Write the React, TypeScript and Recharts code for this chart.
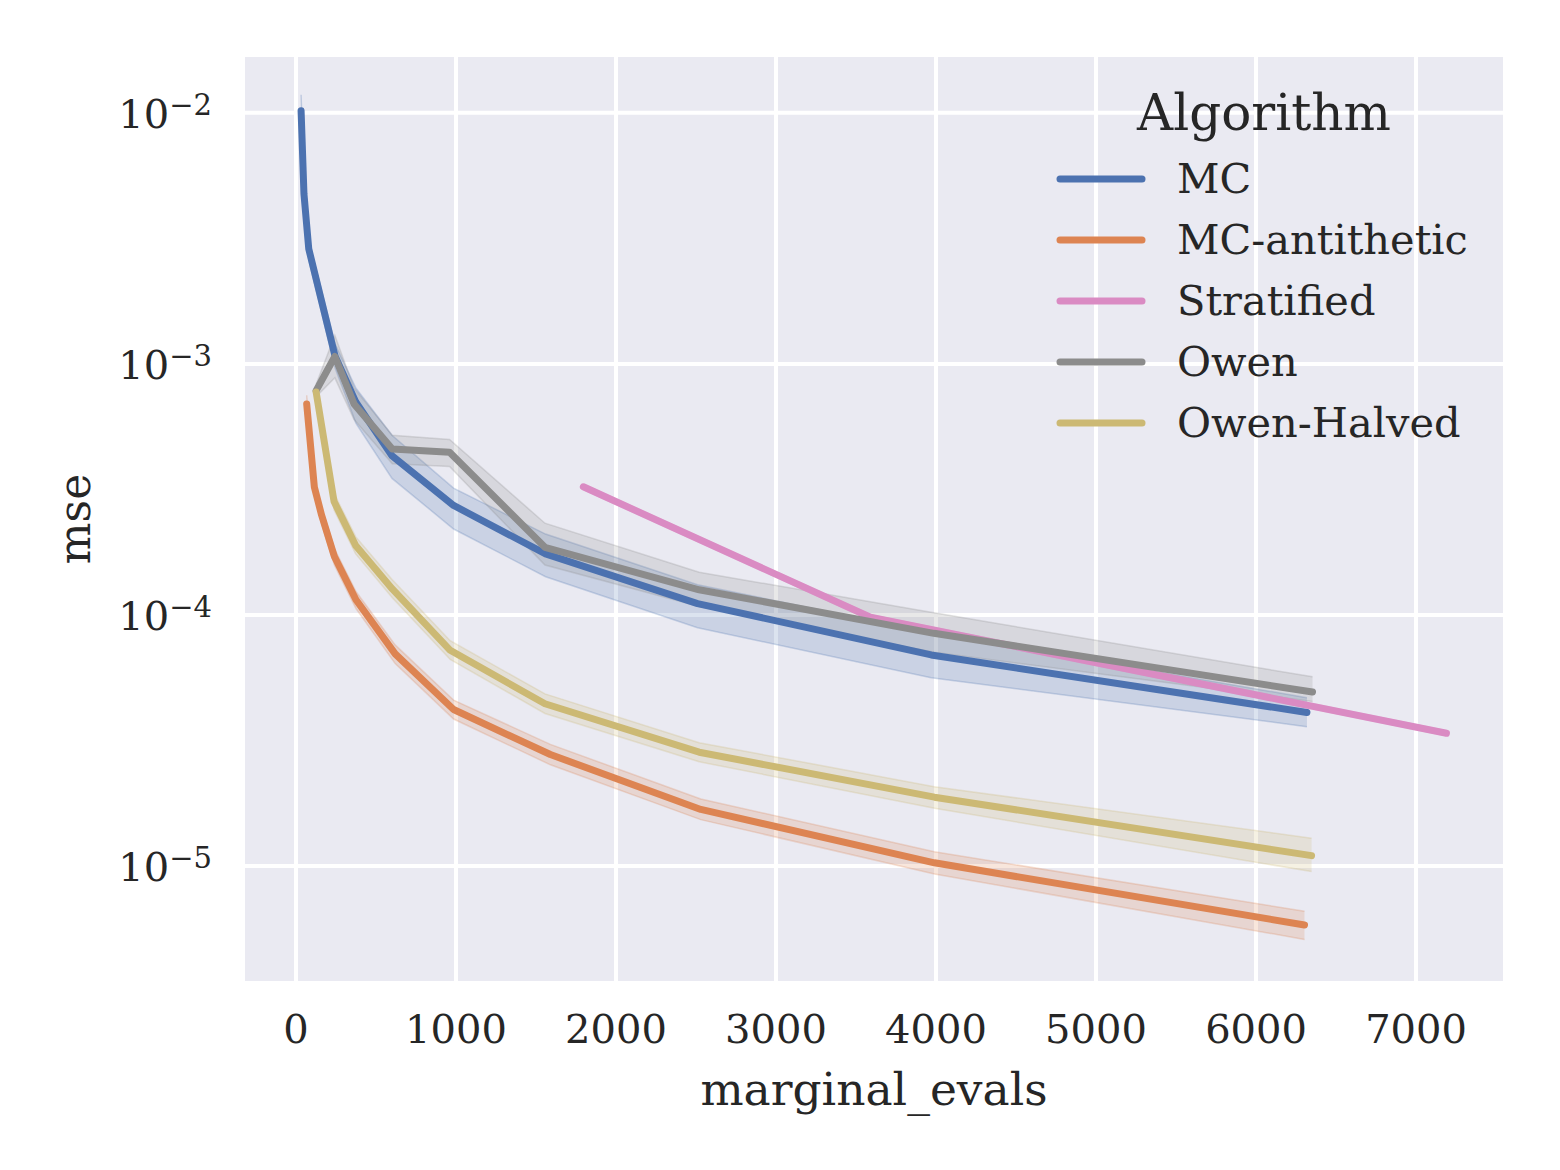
import { ComposedChart, Line, Area, XAxis, YAxis, CartesianGrid } from 'recharts'

const FONT = '"DejaVu Serif", serif'
const INK = '#262626'

// plot box in page pixels (matplotlib axes)
const W = 1560
const H = 1170
const PLOT = { left: 243, right: 1505, top: 55, bottom: 983 }

const X_TICKS = [0, 1000, 2000, 3000, 4000, 5000, 6000, 7000]
const Y_TICKS = [1e-5, 1e-4, 1e-3, 1e-2]
const X_DOMAIN = [-331, 7556]
const Y_DOMAIN = [3.42e-6, 0.017]

// MC
const MC_X = [32, 50, 80, 245, 375, 600, 985, 1560, 2510, 3970, 6318]
const MC_Y = [0.0102, 0.00475, 0.00287, 0.00107, 0.000703, 0.000431, 0.000273, 0.000175, 0.000111, 0.0000693, 0.0000409]
const MC_LO = [0.0094, 0.0043, 0.0026, 0.00096, 0.00058, 0.00035, 0.00022, 0.000142, 0.000089, 0.0000562, 0.0000359]
const MC_HI = [0.0118, 0.0052, 0.0031, 0.0012, 0.0008, 0.00052, 0.00032, 0.00021, 0.000132, 0.000085, 0.0000468]

// MC-antithetic
const AN_X = [67, 115, 160, 240, 375, 620, 985, 1590, 2530, 3990, 6303]
const AN_Y = [0.000693, 0.000323, 0.00025, 0.000171, 0.000115, 0.00007, 0.000042, 0.0000278, 0.0000168, 0.0000103, 0.00000582]
const AN_LO = [0.00064, 0.0003, 0.000232, 0.000158, 0.000106, 0.000064, 0.0000385, 0.0000253, 0.0000153, 0.0000093, 0.0000051]
const AN_HI = [0.00075, 0.000345, 0.000268, 0.000184, 0.000124, 0.000076, 0.0000458, 0.0000305, 0.0000185, 0.0000114, 0.0000066]

// Stratified
const ST_X = [1796, 3590, 7190]
const ST_Y = [0.000324, 0.0000979, 0.0000338]
const ST_LO = [0.000316, 0.0000955, 0.000033]
const ST_HI = [0.000332, 0.0001003, 0.0000346]

// Owen
const OW_X = [126, 243, 363, 602, 960, 1556, 2520, 3987, 6353]
const OW_Y = [0.000783, 0.00107, 0.000693, 0.000458, 0.000445, 0.000186, 0.000126, 0.0000845, 0.0000493]
const OW_LO = [0.00074, 0.00088, 0.0006, 0.0004, 0.00039, 0.000158, 0.000108, 0.000071, 0.0000452]
const OW_HI = [0.00083, 0.0013, 0.0008, 0.00052, 0.0005, 0.000232, 0.000148, 0.000102, 0.0000567]

// Owen-Halved
const OH_X = [126, 238, 373, 602, 964, 1556, 2520, 3990, 6347]
const OH_Y = [0.000773, 0.000283, 0.000189, 0.000127, 0.0000723, 0.0000443, 0.0000284, 0.0000188, 0.000011]
const OH_LO = [0.00072, 0.000262, 0.000175, 0.000117, 0.0000665, 0.0000405, 0.000026, 0.000017, 0.0000095]
const OH_HI = [0.00082, 0.000305, 0.000205, 0.000138, 0.000079, 0.0000485, 0.000031, 0.0000207, 0.0000129]

const SERIES = [
  { name: 'MC', color: '#4C72B0', xs: MC_X, ys: MC_Y, lo: MC_LO, hi: MC_HI },
  { name: 'MC-antithetic', color: '#DD8452', xs: AN_X, ys: AN_Y, lo: AN_LO, hi: AN_HI },
  { name: 'Stratified', color: '#DA8BC3', xs: ST_X, ys: ST_Y, lo: ST_LO, hi: ST_HI },
  { name: 'Owen', color: '#8C8C8C', xs: OW_X, ys: OW_Y, lo: OW_LO, hi: OW_HI },
  { name: 'Owen-Halved', color: '#CCB974', xs: OH_X, ys: OH_Y, lo: OH_LO, hi: OH_HI },
].map((s) => ({
  ...s,
  rows: s.xs.map((x, i) => ({ x, y: s.ys[i], band: [s.lo[i], s.hi[i]] })),
}))

// eslint-disable-next-line @typescript-eslint/no-explicit-any
function XTick({ x, y, payload }: any) {
  return (
    <text x={x} y={y + 60} textAnchor="middle" fontFamily={FONT} fontSize={40} fill={INK}>
      {payload.value}
    </text>
  )
}

// eslint-disable-next-line @typescript-eslint/no-explicit-any
function YTick({ x, y, payload }: any) {
  const exp = Math.round(Math.log10(payload.value))
  return (
    <text x={x} y={y + 15} textAnchor="end" fontFamily={FONT} fontSize={40} fill={INK}>
      10
      <tspan dy={-13} fontSize={29}>{`\u2212${Math.abs(exp)}`}</tspan>
    </text>
  )
}

function LegendBox() {
  return (
    <svg width={W} height={H} style={{ position: 'absolute', left: 0, top: 0, pointerEvents: 'none' }}>
      <text x={1264} y={130} textAnchor="middle" fontFamily={FONT} fontSize={50} fill={INK}>Algorithm</text>
      {SERIES.map((s, i) => (
        <g key={s.name}>
          <line x1={1060} x2={1142} y1={179 + i * 61} y2={179 + i * 61} stroke={s.color} strokeWidth={7} strokeLinecap="round" />
          <text x={1177} y={193 + i * 61} fontFamily={FONT} fontSize={41.5} fill={INK}>{s.name}</text>
        </g>
      ))}
    </svg>
  )
}

export default function App() {
  return (
    <div style={{ position: 'absolute', left: 0, top: 0, width: W, height: H, background: '#fff', fontFamily: FONT }}>
      <ComposedChart
        width={W}
        height={H}
        margin={{ top: PLOT.top, right: W - PLOT.right, bottom: 0, left: 0 }}
      >
        <CartesianGrid fill="#EAEAF2" stroke="#ffffff" strokeWidth={4} />
        <XAxis
          type="number"
          dataKey="x"
          domain={X_DOMAIN}
          ticks={X_TICKS}
          allowDataOverflow
          height={H - PLOT.bottom}
          axisLine={false}
          tickLine={false}
          tickSize={0}
          tickMargin={0}
          tick={<XTick />}
          interval={0}
        />
        <YAxis
          type="number"
          scale="log"
          domain={Y_DOMAIN}
          ticks={Y_TICKS}
          allowDataOverflow
          width={PLOT.left}
          axisLine={false}
          tickLine={false}
          tickSize={0}
          tickMargin={31}
          tick={<YTick />}
          interval={0}
        />
        {SERIES.map((s) => (
          <Area
            key={`band-${s.name}`}
            data={s.rows}
            dataKey="band"
            type="linear"
            stroke={s.color}
            strokeOpacity={0.25}
            strokeWidth={1.5}
            fill={s.color}
            fillOpacity={0.2}
            dot={false}
            activeDot={false}
            isAnimationActive={false}
          />
        ))}
        {SERIES.map((s) => (
          <Line
            key={`line-${s.name}`}
            data={s.rows}
            dataKey="y"
            name={s.name}
            type="linear"
            stroke={s.color}
            strokeWidth={7}
            strokeLinecap="round"
            strokeLinejoin="round"
            dot={false}
            activeDot={false}
            isAnimationActive={false}
          />
        ))}
      </ComposedChart>
      <svg width={W} height={H} style={{ position: 'absolute', left: 0, top: 0, pointerEvents: 'none' }}>
        <text x={(PLOT.left + PLOT.right) / 2} y={1105} textAnchor="middle" fontFamily={FONT} fontSize={45.5} fill={INK}>
          marginal_evals
        </text>
        <text
          x={90}
          y={(PLOT.top + PLOT.bottom) / 2}
          transform={`rotate(-90 90 ${(PLOT.top + PLOT.bottom) / 2})`}
          textAnchor="middle"
          fontFamily={FONT}
          fontSize={44}
          fill={INK}
        >
          mse
        </text>
      </svg>
      <LegendBox />
    </div>
  )
}
